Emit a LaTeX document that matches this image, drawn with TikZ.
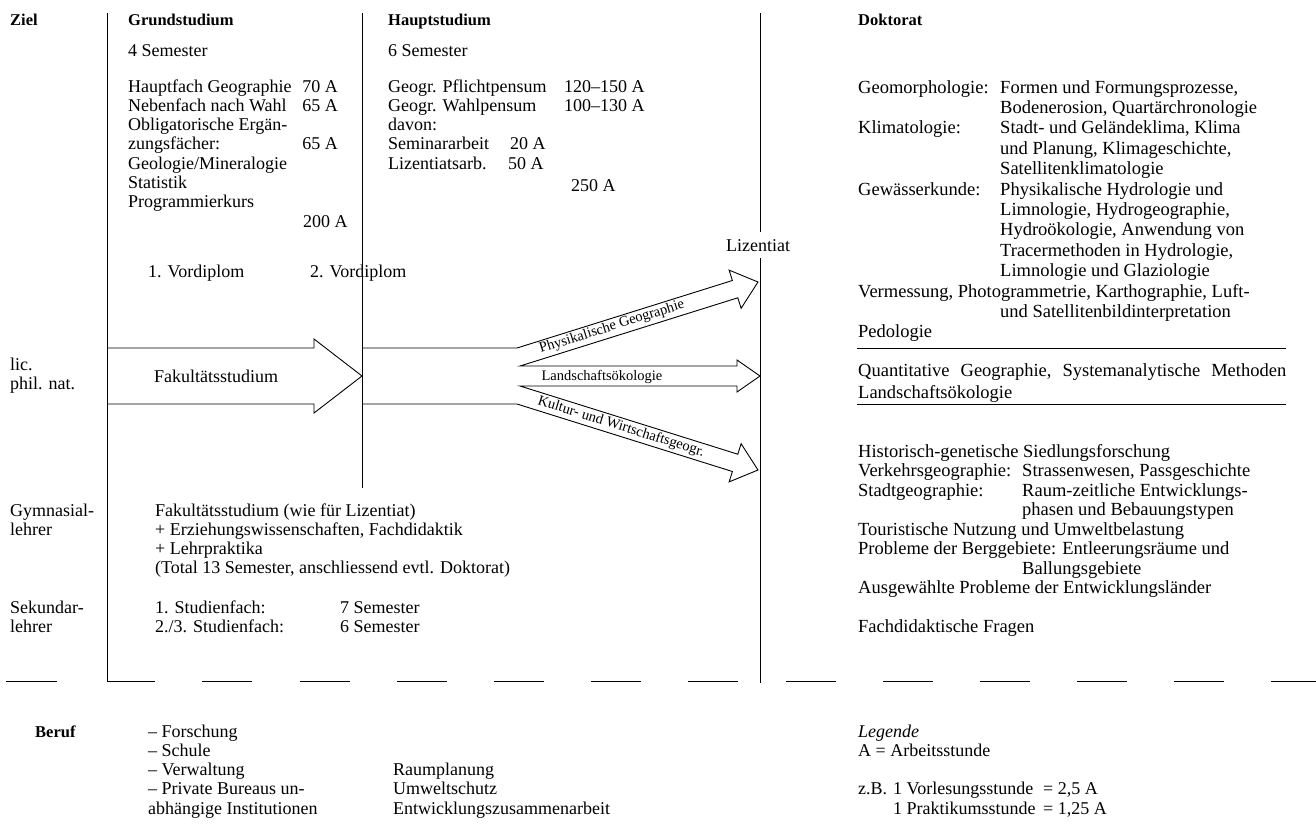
\documentclass[tikz,border=0pt]{standalone}
\usepackage{fontspec}
\setmainfont{Liberation Serif}
\begin{document}
\tikzset{
 ln/.style={line width=0.9pt},
 tx/.style={anchor=base west, inner sep=0pt, font=\fontsize{18}{19}\selectfont},
 txr/.style={anchor=base east, inner sep=0pt, font=\fontsize{18}{19}\selectfont},
 rtx/.style={anchor=base west, inner sep=0pt, font=\fontsize{18.5}{20}\selectfont},
 hd/.style={anchor=base west, inner sep=0pt, font=\fontsize{16.5}{18}\selectfont\bfseries},
 albl/.style={inner sep=0pt, font=\fontsize{14.5}{15}\selectfont},
}
\begin{tikzpicture}[x=1pt,y=-1pt]
\useasboundingbox (0,0) rectangle (1316,825);
% frame lines
\draw[ln] (107,13) -- (107,681) -- (155,681);
\draw[ln] (362,13) -- (362,488);
\draw[ln] (760,13) -- (760,232);
\draw[ln] (760,258) -- (760,683);
\foreach \a/\b in {6/57,202/252,300/350,397/447,494/544,591/641,688/738,786/836,883/933,980/1030,1077/1127,1174/1224,1271/1316}
  \draw[ln] (\a,681) -- (\b,681);
\draw[ln] (857,348) -- (1286,348);
\draw[ln] (857,404) -- (1286,404);
% arrows
\draw[ln,line join=miter] (107,348) -- (314,348) -- (314,339) -- (362,376) -- (314,413) -- (314,404) -- (107,404);
\draw[ln,line join=miter] (362,348) -- (517,348) -- (732.4,280.5) -- (729.1,270.1) -- (758,282) -- (741.1,308.3) -- (737.8,297.8) -- (520,366)
  -- (737,366) -- (737,360) -- (760,376) -- (737,392) -- (737,386) -- (520,386)
  -- (737.8,454.2) -- (741.1,443.7) -- (758,470) -- (729.1,481.9) -- (732.4,471.5) -- (517,404) -- (362,404);
\node[tx] (fak) at (154,382) {Fakultätsstudium};
\node[albl, rotate=17.39] (pg) at (612,327) {Physikalische Geographie};
\node[albl] (lo) at (602,377) {Landschaftsökologie};
\node[albl, rotate=-17.39] (kw) at (621,427) {Kultur- und Wirtschaftsgeogr.};
% left labels
\node[hd] (ziel) at (10,25) {Ziel};
\node[tx] (lic) at (10,370) {lic.};
\node[tx] (phil) at (10,389) {phil. nat.};
\node[tx] (gym) at (10,516) {Gymnasial-};
\node[tx] (gym2) at (10,535.3) {lehrer};
\node[tx] (sek) at (10,613) {Sekundar-};
\node[tx] (sek2) at (10,632.3) {lehrer};
\node[hd] (beruf) at (35,737) {Beruf};
% Grundstudium
\node[hd] (gs) at (128,25) {Grundstudium};
\node[tx] (gs0) at (128,56) {4 Semester};
\node[tx] (gs1) at (128,92) {Hauptfach Geographie};
\node[txr] (gs1a) at (338,92) {70 A};
\node[tx] (gs2) at (128,111.3) {Nebenfach nach Wahl};
\node[txr] (gs2a) at (338,111.3) {65 A};
\node[tx] (gs3) at (128,130.6) {Obligatorische Ergän-};
\node[tx] (gs4) at (128,149.9) {zungsfächer:};
\node[txr] (gs4a) at (338,149.9) {65 A};
\node[tx] (gs5) at (128,169.2) {Geologie/Mineralogie};
\node[tx] (gs6) at (128,188.5) {Statistik};
\node[tx] (gs7) at (128,207.8) {Programmierkurs};
\node[tx] (gs8) at (303,227.1) {200 A};
\node[tx] (vd1) at (148,277) {1. Vordiplom};
\node[tx] (vd2) at (310,277) {2. Vordiplom};
% Hauptstudium
\node[hd] (hs) at (388,25) {Hauptstudium};
\node[tx] (hs0) at (388,56) {6 Semester};
\node[tx] (hs1) at (388,92) {Geogr. Pflichtpensum};
\node[tx] (hs1a) at (564,92) {120–150 A};
\node[tx] (hs2) at (388,111.3) {Geogr. Wahlpensum};
\node[tx] (hs2a) at (564,111.3) {100–130 A};
\node[tx] (hs3) at (388,130.6) {davon:};
\node[tx] (hs4) at (388,149.9) {Seminararbeit};
\node[tx] (hs4a) at (510,149.9) {20 A};
\node[tx] (hs5) at (388,169.2) {Lizentiatsarb.};
\node[tx] (hs5a) at (508,169.2) {50 A};
\node[tx] (hs6) at (571,191) {250 A};
\node[tx, anchor=base] (liz) at (758,251) {Lizentiat};
% Doktorat
\node[hd] (dk) at (858,25) {Doktorat};
\node[rtx] (d0) at (858,93) {Geomorphologie:};
\node[rtx] (d0a) at (1000,93) {Formen und Formungsprozesse,};
\node[rtx] (d1a) at (1000,113.4) {Bodenerosion, Quartärchronologie};
\node[rtx] (d2) at (858,133.8) {Klimatologie:};
\node[rtx] (d2a) at (1000,133.8) {Stadt- und Geländeklima, Klima};
\node[rtx] (d3a) at (1000,154.2) {und Planung, Klimageschichte,};
\node[rtx] (d4a) at (1000,174.6) {Satellitenklimatologie};
\node[rtx] (d5) at (858,195) {Gewässerkunde:};
\node[rtx] (d5a) at (1000,195) {Physikalische Hydrologie und};
\node[rtx] (d6a) at (1000,215.4) {Limnologie, Hydrogeographie,};
\node[rtx] (d7a) at (1000,235.8) {Hydroökologie, Anwendung von};
\node[rtx] (d8a) at (1000,256.2) {Tracermethoden in Hydrologie,};
\node[rtx] (d9a) at (1000,276.6) {Limnologie und Glaziologie};
\node[rtx] (d10) at (858,297) {Vermessung, Photogrammetrie, Karthographie, Luft-};
\node[rtx] (d11a) at (1000,317.4) {und Satellitenbildinterpretation};
\node[rtx] (d12) at (858,337.8) {Pedologie};
\node[rtx] (d13) at (858,376) {\hbox to 428pt{Quantitative\hfill Geographie,\hfill Systemanalytische\hfill Methoden}};
\node[rtx] (d14) at (858,398) {Landschaftsökologie};
\node[rtx] (e0) at (858,457) {Historisch-genetische Siedlungsforschung};
\node[rtx] (e1) at (858,476.5) {Verkehrsgeographie:};
\node[rtx] (e1a) at (1022,476.5) {Strassenwesen, Passgeschichte};
\node[rtx] (e2) at (858,496) {Stadtgeographie:};
\node[rtx] (e2a) at (1022,496) {Raum-zeitliche Entwicklungs-};
\node[rtx] (e3a) at (1022,515.5) {phasen und Bebauungstypen};
\node[rtx] (e4) at (858,535) {Touristische Nutzung und Umweltbelastung};
\node[rtx] (e5) at (858,554.5) {Probleme der Berggebiete: Entleerungsräume und};
\node[rtx] (e6a) at (1022,574) {Ballungsgebiete};
\node[rtx] (e7) at (858,593.5) {Ausgewählte Probleme der Entwicklungsländer};
\node[rtx] (e9) at (858,632.5) {Fachdidaktische Fragen};
% Lehrer
\node[tx] (l0) at (155,516) {Fakultätsstudium (wie für Lizentiat)};
\node[tx] (l1) at (155,535.3) {+ Erziehungswissenschaften, Fachdidaktik};
\node[tx] (l2) at (155,554.6) {+ Lehrpraktika};
\node[tx] (l3) at (155,573.9) {(Total 13 Semester, anschliessend evtl. Doktorat)};
\node[tx] (s1) at (155,613) {1. Studienfach:};
\node[tx] (s1a) at (340,613) {7 Semester};
\node[tx] (s2) at (155,632.3) {2./3. Studienfach:};
\node[tx] (s2a) at (340,632.3) {6 Semester};
% Beruf
\node[tx] (b1) at (148,737) {– Forschung};
\node[tx] (b2) at (148,756.3) {– Schule};
\node[tx] (b3) at (148,775.6) {– Verwaltung};
\node[tx] (b4) at (148,794.9) {– Private Bureaus un-};
\node[tx] (b5) at (148,814.2) {abhängige Institutionen};
\node[tx] (r1) at (393,775.6) {Raumplanung};
\node[tx] (r2) at (393,794.9) {Umweltschutz};
\node[tx] (r3) at (393,814.2) {Entwicklungszusammenarbeit};
% Legende
\node[tx] (lg0) at (858,737) {\itshape Legende};
\node[tx] (lg1) at (858,756.3) {A = Arbeitsstunde};
\node[tx] (lg2) at (858,794.9) {z.B.};
\node[tx] (lg2a) at (893,794.9) {1 Vorlesungsstunde};
\node[tx] (lg2b) at (1043,794.9) {= 2,5 A};
\node[tx] (lg3a) at (893,814.2) {1 Praktikumsstunde};
\node[tx] (lg3b) at (1043,814.2) {= 1,25 A};
\end{tikzpicture}
\end{document}
